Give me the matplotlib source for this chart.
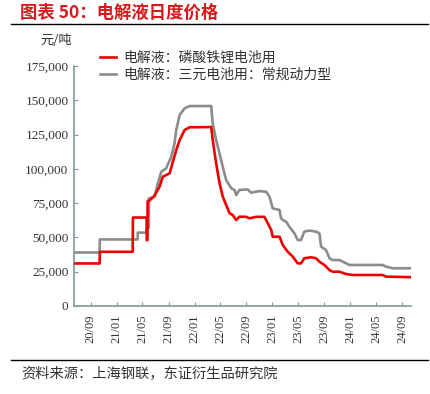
import matplotlib
matplotlib.use("Agg")
import matplotlib.pyplot as plt
import matplotlib.dates as mdates
import pandas as pd

plt.rcParams['font.family'] = ['Noto Sans CJK SC', 'DejaVu Sans']

# 电解液：磷酸铁锂电池用
lfp_dates = ['2020-06-15', '2020-10-13', '2020-10-14', '2021-03-17', '2021-03-18',
             '2021-05-21', '2021-05-22', '2021-05-25', '2021-05-26', '2021-06-04',
             '2021-06-25', '2021-07-21', '2021-08-05', '2021-09-06', '2021-09-21',
             '2021-10-07', '2021-10-23', '2021-11-15', '2021-12-08', '2022-03-20',
             '2022-03-27', '2022-04-12', '2022-04-28', '2022-05-13', '2022-05-29',
             '2022-06-14', '2022-06-29', '2022-07-15', '2022-07-30', '2022-08-31',
             '2022-09-15', '2022-10-16', '2022-11-24', '2022-12-10', '2022-12-26',
             '2023-01-02', '2023-02-03', '2023-02-18', '2023-03-13', '2023-04-06',
             '2023-04-29', '2023-05-15', '2023-05-30', '2023-07-01', '2023-07-24',
             '2023-08-09', '2023-09-01', '2023-09-25', '2023-10-10', '2023-11-10',
             '2023-12-12', '2024-01-12', '2024-05-31', '2024-06-16', '2024-10-11']
lfp_price = [31000, 31000, 39500, 39500, 64500,
             64500, 48000, 48000, 76500, 77000,
             80000, 87000, 94300, 96700, 105000,
             113700, 121000, 128300, 130300, 130500,
             121000, 104000, 89400, 79700, 73600,
             67600, 66300, 62700, 65100, 65000,
             63900, 65000, 65000, 60300, 55400,
             50500, 50500, 44500, 39600, 36000,
             31100, 31100, 34800, 35500, 34800,
             32300, 29900, 26200, 25000, 25000,
             23300, 22600, 22600, 21400, 21000]

# 电解液：三元电池用：常规动力型
ncm_dates = ['2020-06-15', '2020-10-13', '2020-10-14', '2021-04-09', '2021-04-10',
             '2021-05-21', '2021-05-22', '2021-05-31', '2021-06-01', '2021-06-28',
             '2021-07-05', '2021-07-13', '2021-07-29', '2021-08-21', '2021-09-14',
             '2021-09-29', '2021-10-07', '2021-10-23', '2021-11-15', '2021-12-08',
             '2022-03-20', '2022-03-27', '2022-04-12', '2022-04-28', '2022-05-13',
             '2022-05-29', '2022-06-22', '2022-07-07', '2022-07-15', '2022-07-30',
             '2022-09-07', '2022-09-23', '2022-11-01', '2022-12-02', '2022-12-18',
             '2023-01-02', '2023-02-03', '2023-02-10', '2023-02-18', '2023-03-06',
             '2023-03-21', '2023-04-14', '2023-04-29', '2023-05-15', '2023-05-30',
             '2023-06-23', '2023-07-24', '2023-08-09', '2023-08-17', '2023-09-09',
             '2023-09-25', '2023-10-10', '2023-11-10', '2023-12-12', '2023-12-27',
             '2024-05-31', '2024-06-16', '2024-07-17', '2024-10-11']
ncm_price = [39000, 39000, 48500, 48500, 53500,
             53500, 57000, 57000, 78500, 79700,
             84600, 89400, 97900, 100400, 108800,
             118600, 128300, 139200, 144100, 145800,
             145800, 133000, 121000, 111000, 101500,
             91800, 85800, 84600, 80900, 84600,
             85000, 82600, 83800, 83300, 79700,
             71200, 70000, 64000, 62700, 61500,
             57800, 53000, 48100, 48100, 54200,
             55000, 54200, 53000, 43200, 40800,
             34800, 33500, 33500, 31100, 29900,
             29900, 28700, 27500, 27500]

yticks = [0, 25000, 50000, 75000, 100000, 125000, 150000, 175000]

lfp_x = pd.to_datetime(lfp_dates)
ncm_x = pd.to_datetime(ncm_dates)

fig = plt.figure(figsize=(4.31, 3.94), dpi=100)
ax = fig.add_axes([0.1717, 0.2234, 0.7819, 0.6091])

ax.plot(lfp_x, lfp_price, color='#ee0000', lw=1.9, label='电解液：磷酸铁锂电池用', zorder=3)
ax.plot(ncm_x, ncm_price, color='#8c8c8c', lw=1.9, label='电解液：三元电池用：常规动力型', zorder=2)

ax.set_xlim(lfp_x[0], lfp_x[-1])
ax.set_ylim(0, 175000)
ax.set_yticks(yticks)
ax.set_yticklabels([f'{v:,}' for v in yticks], family='Liberation Serif', fontsize=9.5, color='#333333')

ax.xaxis.set_major_locator(mdates.MonthLocator(bymonth=[1, 5, 9]))
ax.xaxis.set_major_formatter(mdates.DateFormatter('%y/%m'))
for lab in ax.get_xticklabels():
    lab.set_family('Liberation Serif')
plt.setp(ax.get_xticklabels(), rotation=90, fontsize=9, color='#333333')

spine_c = '#7f9a9a'
for s in ['top', 'right']:
    ax.spines[s].set_visible(False)
for s in ['left', 'bottom']:
    ax.spines[s].set_color(spine_c)
    ax.spines[s].set_linewidth(1.2)
ax.tick_params(axis='both', direction='in', length=3, color=spine_c, pad=4)
ax.tick_params(axis='x', pad=6)

leg = ax.legend(loc='upper left', bbox_to_anchor=(0.06, 1.085), frameon=False,
                fontsize=10, handlelength=1.2, handletextpad=0.5,
                labelspacing=0.2, borderaxespad=0)
for t in leg.get_texts():
    t.set_color('#333333')

fig.text(0.093, 0.897, '元/吨', fontsize=9.5, color='#333333', va='center')

fig.text(0.046, 0.968, '图表 50：电解液日度价格', fontsize=12.5, color='#d7191c',
         fontweight='bold', va='center')
fig.add_artist(plt.Line2D([0.025, 0.993], [0.94, 0.94], color='black', lw=1.0))
fig.add_artist(plt.Line2D([0.025, 0.993], [0.086, 0.086], color='black', lw=1.0))
fig.text(0.05, 0.053, '资料来源：上海钢联，东证衍生品研究院', fontsize=10.3,
         color='#333333', va='center')

fig.savefig('out.png', dpi=100)
